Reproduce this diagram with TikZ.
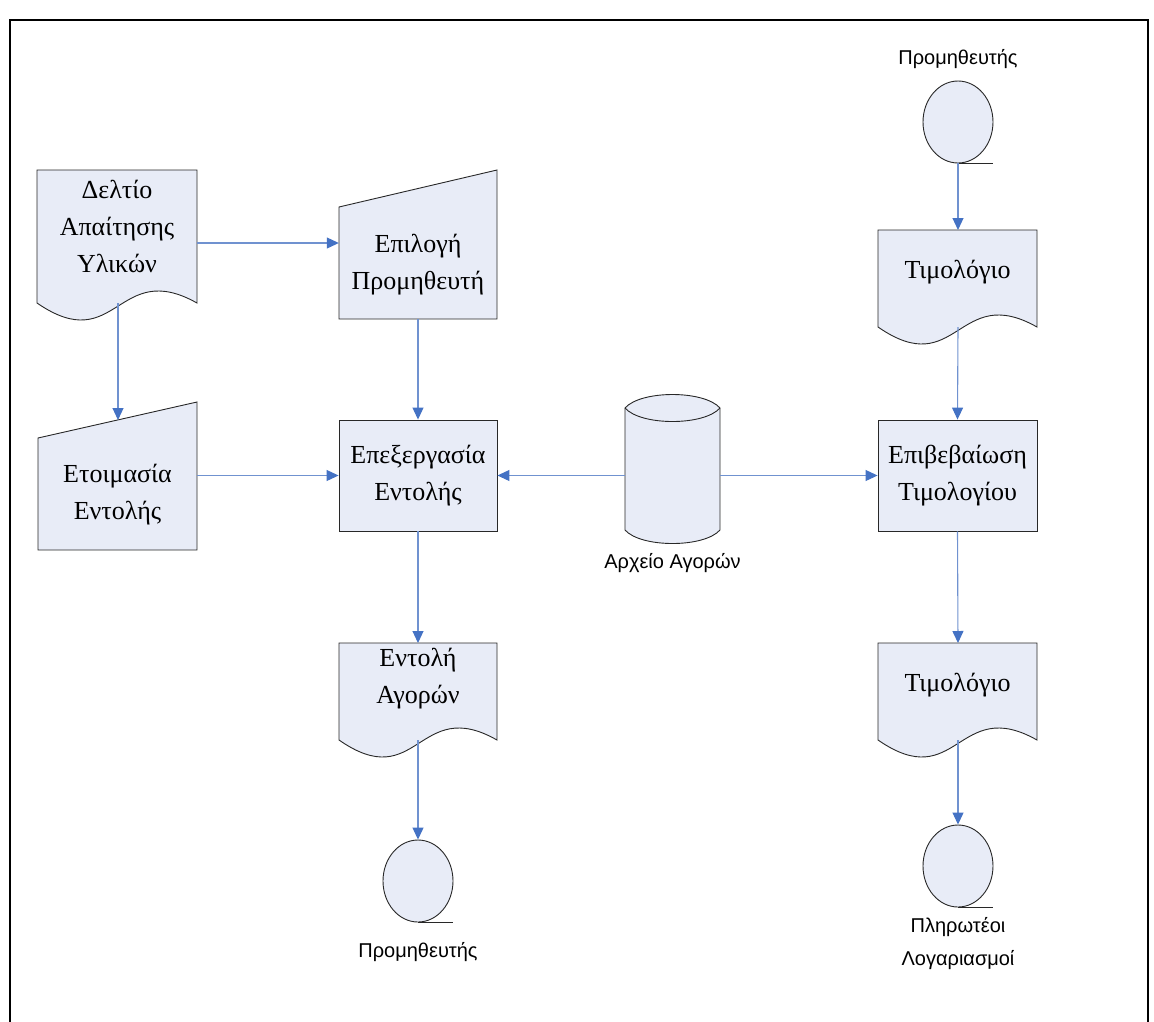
\documentclass[tikz,border=0pt]{standalone}
\usepackage{fontspec}
\setmainfont{Liberation Serif}
\newfontfamily\labelfont{Liberation Sans}
\usetikzlibrary{arrows.meta,shapes.geometric}
\definecolor{shapefill}{RGB}{232,236,247}
\definecolor{flowblue}{RGB}{68,114,196}
\definecolor{flowline}{RGB}{112,146,208}
\definecolor{edge}{RGB}{40,40,40}

\begin{document}
\begin{tikzpicture}[x=1pt,y=-1pt,
  outline/.style={draw=edge, line width=0.9pt, fill=shapefill},
  boxtext/.style={inner sep=0pt, align=center, font=\fontsize{26}{37}\selectfont},
  procbox/.style={outline, boxtext, minimum width=158pt, minimum height=111pt},
  terminal/.style={ellipse, outline, minimum width=70pt, minimum height=82pt, inner sep=0pt},
  flow/.style={draw=flowline, line width=1.1pt, -{Triangle[length=12pt,width=11pt,color=flowblue,fill=flowblue]}},
  caption/.style={font=\labelfont\fontsize{20}{33}\selectfont, align=center, inner sep=0pt}]

\useasboundingbox (0,0) rectangle (1154,1021);
\draw[line width=2pt] (10,1030) -- (10,20) -- (1148,20) -- (1148,1030);

% ---- outlines of documents, manual inputs and the data store ----
% document: material requisition
\draw[outline] (37,170) -- (197,170) -- (197,303)
  .. controls (117,258) and (117,358) .. (37,303) -- cycle;
% manual input: supplier selection
\draw[outline] (339,207) -- (497,170) -- (497,319) -- (339,319) -- cycle;
% manual input: order preparation
\draw[outline] (38,438) -- (197,402) -- (197,550) -- (38,550) -- cycle;
% document: invoice (upper)
\draw[outline] (878,230) -- (1037,230) -- (1037,327)
  .. controls (957.5,282) and (957.5,382) .. (878,327) -- cycle;
% document: invoice (lower)
\draw[outline] (878,643) -- (1037,643) -- (1037,740)
  .. controls (957.5,695) and (957.5,795) .. (878,740) -- cycle;
% document: purchase order
\draw[outline] (339,643) -- (497,643) -- (497,740)
  .. controls (418,695) and (418,795) .. (339,740) -- cycle;
% data store: purchase file
\draw[outline] (625,408) -- (625,530) .. controls (641,548) and (704,548) .. (720,530)
  -- (720,408) .. controls (704,390) and (641,390) .. (625,408) -- cycle;
\draw[edge, line width=0.9pt] (625,408) .. controls (641,426) and (704,426) .. (720,408);

% ---- texts of the shapes ----
\node[boxtext, minimum width=160pt] (dau) at (117,226) {Δελτίο\\Απαίτησης\\Υλικών};
\node[boxtext, minimum width=158pt] (epil) at (418,265) {Επιλογή\\Προμηθευτή};
\node[boxtext, minimum width=159pt] (etoim) at (117.5,495) {Ετοιμασία\\Εντολής};
\node[procbox] (epex) at (418,475.5) {Επεξεργασία\\Εντολής};
\node[procbox, minimum width=159pt] (epib) at (957.5,475.5) {Επιβεβαίωση\\Τιμολογίου};
\node[boxtext, minimum width=159pt] (tim1) at (957.5,272) {Τιμολόγιο};
\node[boxtext, minimum width=159pt] (tim2) at (957.5,685) {Τιμολόγιο};
\node[boxtext, minimum width=158pt] (entol) at (418,679) {Εντολή\\Αγορών};
\node[inner sep=0pt, minimum width=95pt, minimum height=148pt] (arx) at (672.5,469) {};
\node[caption] (arxlab) at (672.5,563) {Αρχείο Αγορών};

% ---- terminators with their captions ----
\node[terminal] (sup1) at (958,122) {};
\draw[edge, line width=0.9pt] (sup1.south) -- ++(35,0);
\node[caption] (sup1lab) at (958,59) {Προμηθευτής};
\node[terminal] (sup2) at (418,881) {};
\draw[edge, line width=0.9pt] (sup2.south) -- ++(35,0);
\node[caption] (sup2lab) at (418,952) {Προμηθευτής};
\node[terminal] (pay) at (958,866) {};
\draw[edge, line width=0.9pt] (pay.south) -- ++(35,0);
\node[caption] (paylab) at (958,943.5) {Πληρωτέοι\\Λογαριασμοί};

% ---- connection points on curved and slanted edges ----
\coordinate (dau-b) at (118,303);
\coordinate (etoim-t) at (118,420);
\coordinate (epil-b) at (418,319);
\coordinate (tim1-b) at (958,327);
\coordinate (tim2-t) at (958,643);
\coordinate (tim2-b) at (958,740);
\coordinate (tim1-t) at (958,230);
\coordinate (entol-t) at (418,643);
\coordinate (entol-b) at (418,740);

% ---- flows ----
\draw[flow] (dau.east |- 0,243) -- (epil.west |- 0,243);
\draw[flow] (dau-b) -- (etoim-t);
\draw[flow] (epil-b) -- (epex.north);
\draw[flow] (etoim.east |- epex.west) -- (epex.west);
\draw[flow] (arx.west |- epex.east) -- (epex.east);
\draw[flow] (arx.east |- epib.west) -- (epib.west);
\draw[flow] (sup1.south) -- (tim1-t);
\draw[flow] (tim1-b) -- (epib.north);
\draw[flow] (epib.south) -- (tim2-t);
\draw[flow] (tim2-b) -- (pay.north);
\draw[flow] (epex.south) -- (entol-t);
\draw[flow] (entol-b) -- (sup2.north);
\end{tikzpicture}
\end{document}
